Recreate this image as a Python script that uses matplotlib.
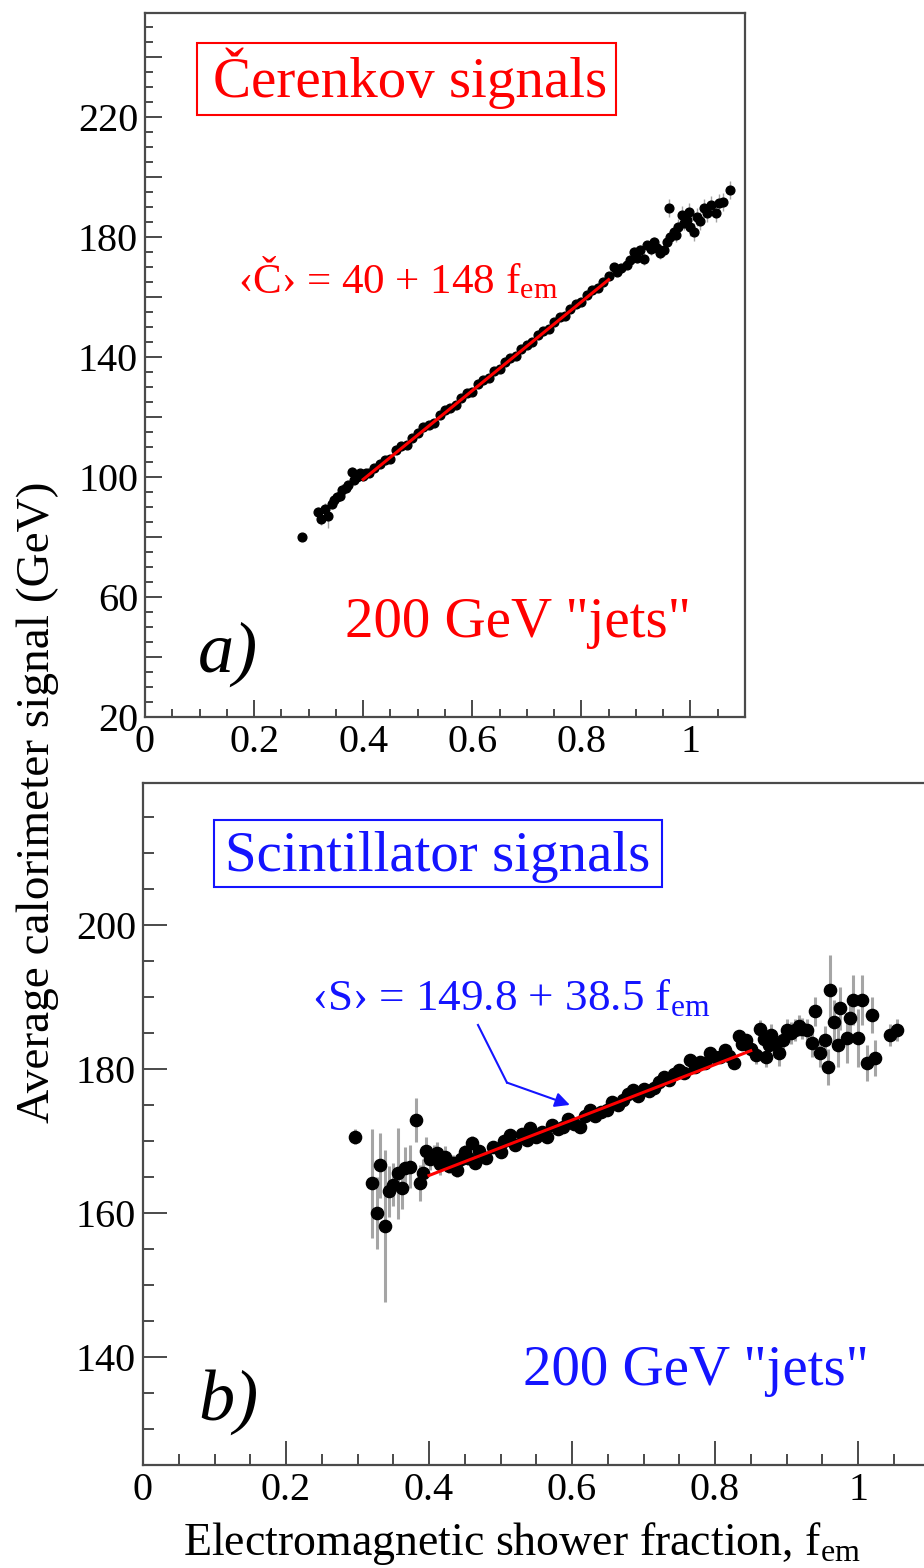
import numpy as np
import matplotlib
matplotlib.use("Agg")
import matplotlib.pyplot as plt
from matplotlib.patches import Rectangle
from matplotlib.ticker import MultipleLocator, FuncFormatter

plt.rcParams["font.family"] = "Liberation Serif"
plt.rcParams["mathtext.fontset"] = "custom"
plt.rcParams["mathtext.rm"] = "Liberation Serif"
plt.rcParams["mathtext.it"] = "Liberation Serif:italic"

# --- a) Cerenkov signal vs f_em ---
cer_x = [0.287, 0.318, 0.322, 0.330, 0.336, 0.342, 0.346, 0.352, 0.357, 0.362,
         0.368, 0.373, 0.379, 0.384, 0.389, 0.394, 0.400, 0.405,
         0.41, 0.42, 0.43, 0.44, 0.45, 0.46, 0.47, 0.48, 0.49, 0.50,
         0.51, 0.52, 0.53, 0.54, 0.55, 0.56, 0.57, 0.58, 0.59, 0.60,
         0.61, 0.62, 0.63, 0.64, 0.65, 0.66, 0.67, 0.68, 0.69, 0.70,
         0.71, 0.72, 0.73, 0.74, 0.75, 0.76, 0.77, 0.78, 0.79, 0.80,
         0.81, 0.82, 0.83, 0.84,
         0.850, 0.859, 0.866, 0.872, 0.884, 0.890, 0.896, 0.902, 0.908, 0.914,
         0.920, 0.927, 0.933, 0.939, 0.945, 0.951, 0.957, 0.960, 0.963, 0.970,
         0.974, 0.978, 0.984, 0.988, 0.994, 0.997, 1.000, 1.006, 1.012, 1.018,
         1.025, 1.031, 1.037, 1.046, 1.052, 1.060, 1.073]
cer_y = [80.0, 88.5, 86.0, 89.5, 87.0, 91.0, 92.5, 93.5, 93.8, 95.7,
         96.5, 97.3, 101.8, 99.0, 100.0, 101.2, 100.5, 101.5,
         101.2, 102.9, 104.5, 105.6, 106.0, 108.9, 110.2, 110.6, 112.9, 114.6,
         116.8, 117.3, 118.0, 120.6, 122.3, 123.0, 124.1, 126.4, 127.9, 128.5,
         130.9, 132.4, 133.0, 135.3, 136.0, 138.4, 139.6, 140.3, 142.8, 144.1,
         144.9, 147.2, 148.6, 149.2, 151.8, 153.4, 153.7, 156.1, 157.8, 158.2,
         160.6, 162.3, 163.0, 165.1,
         167.0, 170.1, 168.5, 169.8, 170.7, 172.5, 175.1, 173.0, 175.7, 172.8,
         177.3, 176.0, 178.4, 176.5, 174.6, 175.7, 178.5, 189.6, 180.1, 181.8,
         180.7, 183.5, 187.3, 184.8, 185.7, 188.4, 183.4, 181.8, 186.8, 185.5,
         189.6, 188.0, 190.7, 187.9, 191.2, 191.8, 195.7]
cer_err = [0.8, 1.5, 2.0, 2.0, 4.0, 1.5, 2.0, 1.5, 1.5, 2.0,
           1.5, 1.5, 1.5, 1.2, 1.2, 1.0, 1.0, 1.0] + [0.6] * 44 + \
          [1.0, 1.0, 1.2, 1.2, 1.2, 1.5, 1.5, 1.5, 1.5, 2.0,
           1.5, 2.0, 1.5, 2.0, 2.0, 2.0, 2.0, 3.0, 2.0, 2.5,
           2.5, 2.5, 3.0, 2.5, 3.0, 3.0, 3.0, 3.0, 3.0, 3.0,
           3.0, 3.0, 3.0, 3.0, 3.0, 3.0, 3.0]
cer_fit = (40.0, 148.0)
cer_fit_range = (0.40, 0.85)

# --- b) scintillation signal vs f_em ---
sci_x = [0.297, 0.320, 0.327, 0.331, 0.338, 0.344, 0.350, 0.357, 0.362, 0.366,
         0.373, 0.382, 0.387, 0.392, 0.396, 0.402, 0.407, 0.411, 0.416, 0.422,
         0.428, 0.433, 0.439, 0.445, 0.450, 0.455, 0.460,
         0.465, 0.470, 0.480, 0.490, 0.500, 0.505, 0.513, 0.520, 0.530, 0.537,
         0.541, 0.550, 0.558, 0.565, 0.572, 0.580, 0.588, 0.595, 0.603, 0.611,
         0.618, 0.625, 0.632, 0.640, 0.649, 0.656, 0.664, 0.672, 0.679, 0.686,
         0.693, 0.700, 0.707, 0.714, 0.721, 0.728, 0.735, 0.742, 0.749, 0.756,
         0.765, 0.772, 0.779, 0.786, 0.793, 0.800, 0.807, 0.814, 0.820, 0.826,
         0.833, 0.838, 0.844,
         0.851, 0.858, 0.863, 0.868, 0.872, 0.875, 0.879, 0.884, 0.889, 0.895,
         0.900, 0.906, 0.912, 0.917, 0.921, 0.928, 0.935, 0.940, 0.947, 0.954,
         0.958, 0.961, 0.966, 0.972, 0.975, 0.984, 0.989, 0.993, 1.000, 1.005,
         1.012, 1.019, 1.024, 1.045, 1.054]
sci_y = [170.6, 164.1, 160.0, 166.6, 158.2, 163.0, 163.9, 165.5, 163.5, 166.2,
         166.4, 172.9, 164.1, 165.5, 168.6, 167.5, 168.0, 168.3, 166.8, 167.8,
         166.5, 167.0, 166.0, 167.5, 168.5, 167.6, 169.7,
         167.0, 168.6, 167.6, 169.2, 168.5, 170.0, 170.8, 169.5, 170.9, 170.1,
         171.8, 170.6, 171.2, 170.6, 172.2, 171.6, 172.0, 173.0, 172.4, 172.0,
         173.5, 174.3, 173.4, 174.0, 174.3, 175.4, 175.0, 175.7, 176.5, 177.1,
         176.3, 177.2, 176.9, 177.3, 178.2, 178.9, 178.4, 179.3, 179.9, 179.4,
         181.2, 180.2, 181.0, 180.8, 182.2, 181.6, 181.7, 182.6, 181.8, 180.8,
         184.5, 183.4, 184.0,
         182.8, 181.9, 185.6, 184.2, 181.7, 183.3, 184.7, 183.5, 182.2, 184.0,
         185.4, 185.0, 185.4, 186.0, 185.6, 185.4, 183.6, 188.0, 182.2, 184.0,
         180.3, 191.0, 186.5, 183.3, 188.4, 184.3, 187.0, 189.6, 184.3, 189.6,
         180.8, 187.5, 181.5, 184.7, 185.4]
sci_err = [1.0, 7.6, 5.0, 4.5, 10.5, 3.5, 3.0, 6.3, 3.0, 3.0,
           3.0, 3.0, 2.5, 2.0, 2.0, 1.5, 1.5, 1.5, 1.5, 1.5,
           1.0, 1.0, 1.0, 1.0, 1.0, 1.0, 1.0] + [0.6] * 53 + \
          [1.0, 1.2, 1.2, 1.2, 1.5, 1.5, 1.5, 1.5, 1.8, 1.5,
           1.5, 1.5, 1.5, 1.5, 1.5, 1.5, 2.0, 2.0, 2.0, 2.0,
           2.5, 4.8, 3.0, 3.0, 3.0, 3.5, 3.0, 3.5, 4.0, 3.5,
           2.5, 2.5, 2.5, 1.5, 1.5]
sci_fit = (149.8, 38.5)
sci_fit_range = (0.40, 0.85)

RED = "#ff0000"
BLUE = "#1414ff"
FRAME = "#4a4a4a"


def style_axes(ax, ymajor, label_step, major_len, minor_len):
    ax.xaxis.set_major_locator(MultipleLocator(0.2))
    ax.xaxis.set_minor_locator(MultipleLocator(0.05))
    ax.yaxis.set_major_locator(MultipleLocator(ymajor))
    ax.yaxis.set_minor_locator(MultipleLocator(5))
    ax.xaxis.set_major_formatter(FuncFormatter(lambda v, p: f"{v:g}"))
    ax.yaxis.set_major_formatter(
        FuncFormatter(lambda v, p: f"{v:g}" if round(v - label_step[0]) % label_step[1] == 0 else ""))
    ax.tick_params(which="both", direction="in", top=False, right=False,
                   colors=FRAME, width=1.4, labelcolor="black", labelsize=29)
    ax.tick_params(which="major", length=major_len)
    ax.tick_params(which="minor", length=minor_len)
    ax.tick_params(axis="y", pad=5)
    ax.tick_params(axis="x", pad=5)
    for s in ax.spines.values():
        s.set_color(FRAME)
        s.set_linewidth(1.6)


def draw_panel(ax, x, y, err, fit, fit_range, ms, elw):
    ax.errorbar(x, y, yerr=err, fmt="o", color="black", ms=ms, ecolor="#a5a5a5",
                elinewidth=elw, capsize=0, zorder=3)
    fx = np.array(fit_range)
    ax.plot(fx, fit[0] + fit[1] * fx, color=RED, lw=2.2, zorder=4)


fig = plt.figure(figsize=(9.24, 15.68), dpi=100)

# panel a
ax1 = fig.add_axes([145 / 924, 1 - 717 / 1568, 600 / 924, 704 / 1568])
draw_panel(ax1, cer_x, cer_y, cer_err, cer_fit, cer_fit_range, 6.3, 1.0)
ax1.set_xlim(0, 1.1)
ax1.set_ylim(20, 254.7)
style_axes(ax1, 20, (20, 40), 12, 6)
ax1.add_patch(Rectangle((0.0867, 0.855), 0.698, 0.102, transform=ax1.transAxes,
                        fill=False, edgecolor=RED, lw=1.5))
ax1.text(0.113, 0.881, "Čerenkov signals", transform=ax1.transAxes,
         color=RED, fontsize=41, ha="left", va="baseline")
ax1.text(0.155, 0.602, "‹Č› = 40 + 148 f$_{\\mathrm{em}}$", transform=ax1.transAxes,
         color=RED, fontsize=31, ha="left", va="baseline")
ax1.text(0.333, 0.114, "200 GeV \"jets\"", transform=ax1.transAxes,
         color=RED, fontsize=41, ha="left", va="baseline")
ax1.text(0.088, 0.064, "a)", transform=ax1.transAxes, style="italic",
         fontsize=52, ha="left", va="baseline")

# panel b
ax2 = fig.add_axes([143 / 924, 1 - 1465 / 1568, 786.5 / 924, 682 / 1568])
draw_panel(ax2, sci_x, sci_y, sci_err, sci_fit, sci_fit_range, 8.8, 2.2)
ax2.set_xlim(0, 1.1)
ax2.set_ylim(125, 219.7)
style_axes(ax2, 20, (0, 20), 17, 8)
ax2.spines["right"].set_visible(False)
ax2.add_patch(Rectangle((0.0903, 0.8475), 0.5697, 0.0982, transform=ax2.transAxes,
                        fill=False, edgecolor=BLUE, lw=1.5))
ax2.text(0.1043, 0.871, "Scintillator signals", transform=ax2.transAxes,
         color=BLUE, fontsize=41, ha="left", va="baseline")
ax2.text(0.215, 0.667, "‹S› = 149.8 + 38.5 f$_{\\mathrm{em}}$", transform=ax2.transAxes,
         color=BLUE, fontsize=32.5, ha="left", va="baseline")
ax2.text(0.483, 0.117, "200 GeV \"jets\"", transform=ax2.transAxes,
         color=BLUE, fontsize=41, ha="left", va="baseline")
ax2.text(0.070, 0.066, "b)", transform=ax2.transAxes, style="italic",
         fontsize=52, ha="left", va="baseline")
# bent arrow pointing at the fit line
ax2.plot([0.4685, 0.509], [186.1, 178.1], color=BLUE, lw=1.5, zorder=5)
ax2.annotate("", xy=(0.597, 175.0), xytext=(0.509, 178.1),
             arrowprops=dict(arrowstyle="-|>", color=BLUE, lw=1.5,
                             mutation_scale=22, shrinkA=0, shrinkB=0), zorder=5)

fig.text(38 / 924, 1 - 802 / 1568, "Average calorimeter signal (GeV)",
         rotation=90, ha="center", va="center", fontsize=34)
fig.text(522 / 924, 1 - 1555 / 1568, "Electromagnetic shower fraction, f$_{\\mathrm{em}}$",
         ha="center", va="baseline", fontsize=33)

fig.savefig("out.png", dpi=100)
